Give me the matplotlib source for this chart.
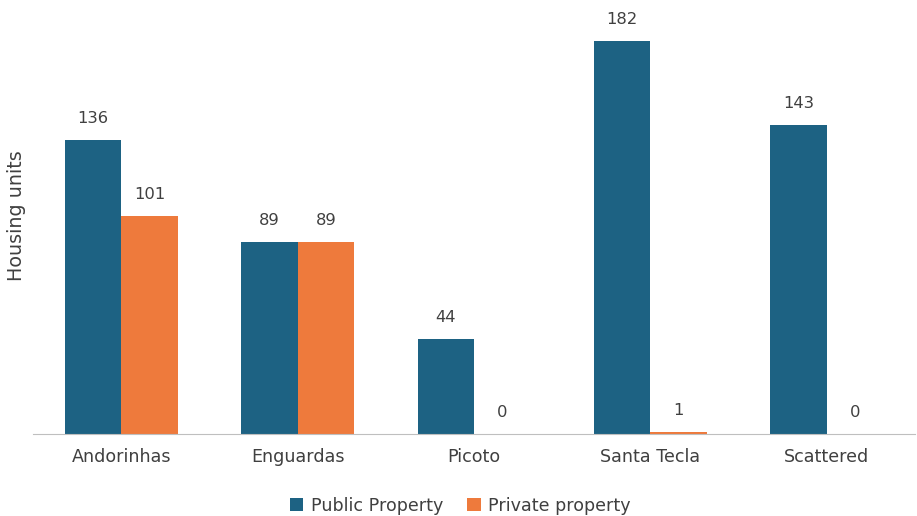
import numpy as np
import matplotlib.pyplot as plt

# data
neighbourhoods = ["Andorinhas", "Enguardas", "Picoto", "Santa Tecla", "Scattered"]
public_units = [136, 89, 44, 182, 143]
private_units = [101, 89, 0, 1, 0]

PUBLIC_COLOR = "#1D6283"
PRIVATE_COLOR = "#EE7A3C"
TEXT_COLOR = "#404040"

fig = plt.figure(figsize=(9.17, 5.16), dpi=100)
ax = fig.add_axes([33 / 917, 82 / 516, 882 / 917, 432 / 516])

x = np.arange(len(neighbourhoods))
w = 0.32
bars_pub = ax.bar(x - w / 2, public_units, w, color=PUBLIC_COLOR, label="Public Property")
bars_priv = ax.bar(x + w / 2, private_units, w, color=PRIVATE_COLOR, label="Private property")

for bars in (bars_pub, bars_priv):
    for b in bars:
        h = b.get_height()
        ax.annotate(f"{h:.0f}", (b.get_x() + b.get_width() / 2, h),
                    xytext=(0, 10), textcoords="offset points",
                    ha="center", va="bottom", fontsize=11.8, color=TEXT_COLOR)

ax.set_xlim(-0.5, len(neighbourhoods) - 0.5)
ax.set_ylim(0, 200)
ax.set_xticks(x)
ax.set_xticklabels(neighbourhoods, fontsize=12.6, color=TEXT_COLOR)
ax.tick_params(axis="x", length=0, pad=10)
ax.set_yticks([])
for side in ("top", "right", "left"):
    ax.spines[side].set_visible(False)
ax.spines["bottom"].set_color("#BFBFBF")

fig.text(17 / 917, 1 - 216 / 516, "Housing units", rotation=90, ha="center", va="center",
         fontsize=13.8, color=TEXT_COLOR)

fig.legend(loc="center", bbox_to_anchor=(0.502, 1 - 506 / 516), ncol=2, frameon=False,
           fontsize=12.6, labelcolor=TEXT_COLOR, handlelength=0.75, handleheight=0.75,
           columnspacing=1.4, handletextpad=0.45)

fig.savefig("out.png", dpi=100)
